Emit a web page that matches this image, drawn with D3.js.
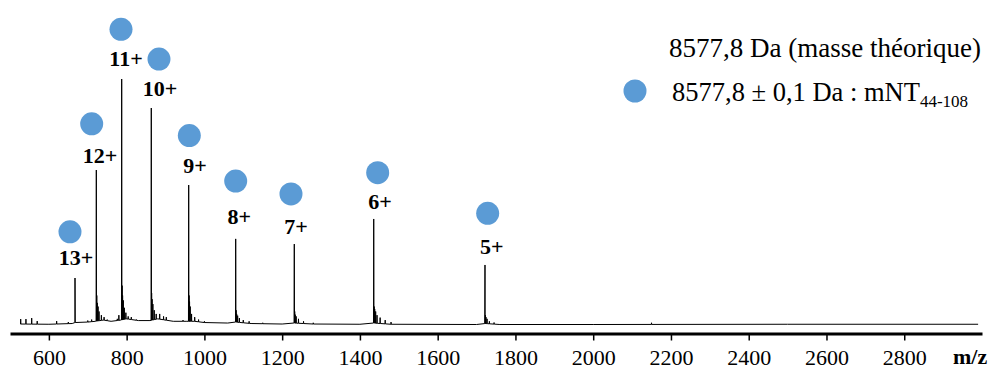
<!DOCTYPE html>
<html><head><meta charset="utf-8">
<script src="https://cdn.jsdelivr.net/npm/d3@7"></script>
<style>body{margin:0;background:#fff}svg{display:block}</style>
</head><body>
<svg id="chart" width="995" height="369"></svg>
<script>
// ---- data ----
const tickValues = [600, 800, 1000, 1200, 1400, 1600, 1800, 2000, 2200, 2400, 2600, 2800];
const chargeLabels = ["13+", "12+", "11+", "10+", "9+", "8+", "7+", "6+", "5+"];
const peakMz  = [667.2, 722.0, 787.3, 863.4, 959.6, 1080.5, 1231.2, 1435.5, 1721.7];
const peakInt = [19.1, 63.0, 100.0, 88.2, 56.9, 35.0, 32.9, 43.1, 24.4];
const markerMz  = [654.3, 710.1, 785.5, 883.2, 961.2, 1080.5, 1222.7, 1445.7, 1728.6];
const markerInt = [37.9, 81.8, 120.2, 108.1, 77.0, 58.5, 53.3, 61.9, 45.4];
const labelMz  = [669.8, 731.5, 798.4, 885.8, 975.9, 1089.8, 1235.6, 1451.7, 1738.9];
const labelInt = [24.2, 65.8, 105.1, 92.9, 61.6, 41.0, 36.9, 47.1, 28.8];
// adduct / noise spikes
const satMz  = [527.5, 541, 555.8, 570, 620, 650,
  700, 710, 723.2, 724.5, 726.5, 729, 735, 742, 750,
  776, 780, 788.4, 789.6, 791.5, 794, 798, 804, 812, 825,
  864.3, 865.5, 867.5, 871, 876, 885, 895, 902,
  945, 960.6, 961.8, 963.5, 967, 975, 985, 1000,
  1081.6, 1083, 1085.5, 1090, 1100, 1115, 1150,
  1232.3, 1233.6, 1236, 1242, 1255, 1280,
  1436.6, 1438, 1440.5, 1444, 1452, 1465, 1480,
  1722.8, 1724.2, 1727, 1733, 1745, 2150];
const satInt = [2.4, 2.4, 2.8, 1.6, 1.6, 1.2,
  1.8, 2.2, 12.0, 9.0, 7.5, 5.5, 4.0, 3.2, 2.2,
  2.5, 4.0, 16.0, 12.0, 10.0, 7.0, 5.0, 3.5, 3.2, 2.2,
  13.0, 10.5, 8.5, 6.0, 4.5, 4.5, 3.5, 3.2,
  2.0, 12.0, 9.5, 7.5, 4.5, 3.2, 2.2, 1.5,
  6.0, 4.5, 3.8, 2.8, 2.0, 1.5, 0.9,
  5.5, 4.2, 3.5, 2.5, 1.5, 0.9,
  7.5, 6.5, 5.5, 4.0, 3.0, 2.0, 1.2,
  4.0, 3.2, 2.5, 1.5, 1.0, 0.9];
// baseline level
const baseMz  = [526, 600, 660, 667, 700, 720, 740, 760, 785, 800, 830, 860, 880, 920, 955, 975, 1000, 1060, 1080, 1120, 1200, 1230, 1280, 1400, 1435, 1480, 1700, 1722, 1760, 2000, 2500, 2990];
const baseInt = [0.4, 0.3, 0.6, 1.0, 1.2, 1.5, 2.0, 1.5, 2.0, 2.5, 1.8, 1.8, 2.5, 1.5, 1.5, 1.5, 1.0, 0.8, 1.2, 0.6, 0.4, 0.8, 0.4, 0.3, 0.8, 0.3, 0.2, 0.6, 0.2, 0.2, 0.3, 0.3];
const legendTitle = "8577,8 Da (masse théorique)";
const legendMain = "8577,8 ± 0,1 Da : mNT";
const legendSub = "44-108";
const axisTitle = "m/z";

// ---- drawing ----
const svg = d3.select("#chart");
const serif = "'Liberation Serif','Times New Roman',serif";
const blue = "#5b9bd5";
const x = d3.scaleLinear().domain([500, 3000]).range([10, 982]);
const y = d3.scaleLinear().domain([0, 100]).range([325, 79]);
const base = d3.scaleLinear().domain(baseMz).range(baseInt).clamp(true);

// spectrum vertices
const spikes = [];
peakMz.forEach((m, i) => spikes.push({m, h: peakInt[i], w: 0.6}));
satMz.forEach((m, i) => spikes.push({m, h: satInt[i], w: 0.4}));
const verts = baseMz.map((m, i) => [m, baseInt[i]]);
spikes.forEach(s => {
  verts.push([s.m - s.w, base(s.m - s.w)]);
  verts.push([s.m, Math.max(s.h, base(s.m))]);
  verts.push([s.m + s.w, base(s.m + s.w)]);
});
verts.sort((a, b) => a[0] - b[0]);
svg.append("path")
  .attr("d", d3.line().x(d => x(d[0])).y(d => y(d[1]))(verts))
  .attr("fill", "none").attr("stroke", "#000").attr("stroke-width", 1);

// axis
const ax = svg.append("g").attr("transform", "translate(0,333.5)")
  .call(d3.axisBottom(x).tickValues(tickValues).tickSize(7).tickSizeOuter(0).tickFormat(d3.format("d")));
ax.select(".domain").attr("stroke", "#000").attr("stroke-width", 3);
ax.selectAll(".tick line").attr("stroke", "#000").attr("stroke-width", 1.5);
ax.selectAll(".tick text").attr("dy", null).attr("y", 31.5)
  .attr("font-family", serif).attr("font-size", 22).attr("fill", "#000");
svg.append("text").attr("x", 953).attr("y", 364).text(axisTitle)
  .attr("font-family", serif).attr("font-size", 22).attr("font-weight", "bold");

// markers & labels
svg.selectAll("circle.mk").data(markerMz).join("circle").attr("class", "mk")
  .attr("cx", d => x(d)).attr("cy", (d, i) => y(markerInt[i])).attr("r", 11.5).attr("fill", blue);
svg.selectAll("text.lb").data(chargeLabels).join("text").attr("class", "lb")
  .attr("x", (d, i) => x(labelMz[i])).attr("y", (d, i) => y(labelInt[i]))
  .attr("text-anchor", "middle").attr("font-family", serif).attr("font-size", 22)
  .attr("font-weight", "bold").text(d => d);

// legend
svg.append("text").attr("x", 669).attr("y", 57).text(legendTitle)
  .attr("font-family", serif).attr("font-size", 27);
svg.append("circle").attr("cx", 635).attr("cy", 91).attr("r", 11.5).attr("fill", blue);
const l2 = svg.append("text").attr("x", 672).attr("y", 101)
  .attr("font-family", serif).attr("font-size", 26.5);
l2.append("tspan").text(legendMain);
l2.append("tspan").attr("font-size", 17).attr("dy", 6).text(legendSub);
</script>
</body></html>
